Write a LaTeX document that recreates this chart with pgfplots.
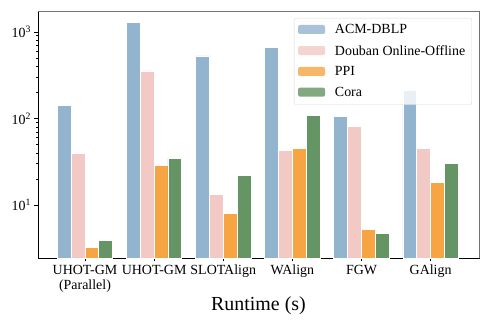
\documentclass[border=0pt]{standalone}
\usepackage{pgfplots}
\pgfplotsset{compat=1.18}
\usepackage{fontspec}
\setmainfont{Liberation Serif}
\definecolor{cacm}{HTML}{93B4CF}
\definecolor{cdou}{HTML}{F2C9C4}
\definecolor{cppi}{HTML}{F7A443}
\definecolor{ccora}{HTML}{659565}
\begin{document}
\begin{tikzpicture}
\begin{axis}[
  scale only axis,
  width=441bp, height=247bp,
  ymode=log, log origin=infty,
  ymin=2.45, ymax=1740,
  xmin=-0.68, xmax=5.70,
  xtick={0,1,2,3,4,5},
  xticklabels={{UHOT-GM\\(Parallel)},UHOT-GM,SLOTAlign,WAlign,FGW,GAlign},
  xticklabel style={align=center, font=\fontsize{14}{15}\selectfont},
  ytick={10,100,1000},
  yticklabels={10\textsuperscript{1},10\textsuperscript{2},10\textsuperscript{3}},
  yticklabel style={font=\fontsize{14}{15}\selectfont},
  tick align=outside,
  xtick pos=left, ytick pos=left,
  major tick length=3.5bp, minor tick length=2bp,
  tick style={black, line width=0.6bp},
  axis line style={line width=0.8bp},
  xlabel={Runtime (s)},
  xlabel style={font=\fontsize{20}{22}\selectfont, yshift=2bp},
  ybar, bar width=0.2, bar shift auto=false,
  legend style={at={(0.984,0.972)}, anchor=north east,
    draw=black!15, rounded corners=2bp, fill=white, fill opacity=0.8, text opacity=1,
    font=\fontsize{14}{15}\selectfont, row sep=5bp, inner sep=4bp,
    nodes={inner sep=2.5bp}},
  legend cell align=left,
  legend image code/.code={\fill[#1,draw=none] (0bp,-4bp) rectangle (27bp,5bp); \path (34bp,0bp);},
  after end axis/.code={
    \draw[black!55, line width=0.8bp] (rel axis cs:0,1) -- (rel axis cs:1,1) -- (rel axis cs:1,0);
  },
]
\addplot[fill=cacm, draw=white, line width=0.8bp, bar shift=-0.3] coordinates {(0,141) (1,1270) (2,527) (3,659) (4,105) (5,210)};
\addplot[fill=cdou, draw=white, line width=0.8bp, bar shift=-0.1] coordinates {(0,39.5) (1,354) (2,13.4) (3,43) (4,81.5) (5,45)};
\addplot[fill=cppi, draw=white, line width=0.8bp, bar shift=0.1] coordinates {(0,3.25) (1,28.9) (2,8.1) (3,45.4) (4,5.25) (5,18.1)};
\addplot[fill=ccora, draw=white, line width=0.8bp, bar shift=0.3] coordinates {(0,3.87) (1,34.6) (2,22.2) (3,108) (4,4.67) (5,30.4)};
\legend{ACM-DBLP, Douban Online-Offline, PPI, Cora}
\end{axis}
\pgfresetboundingbox
\path (current axis.south west) ++(-38bp,-69bp) rectangle ++(490bp,327bp);
\end{tikzpicture}
\end{document}
